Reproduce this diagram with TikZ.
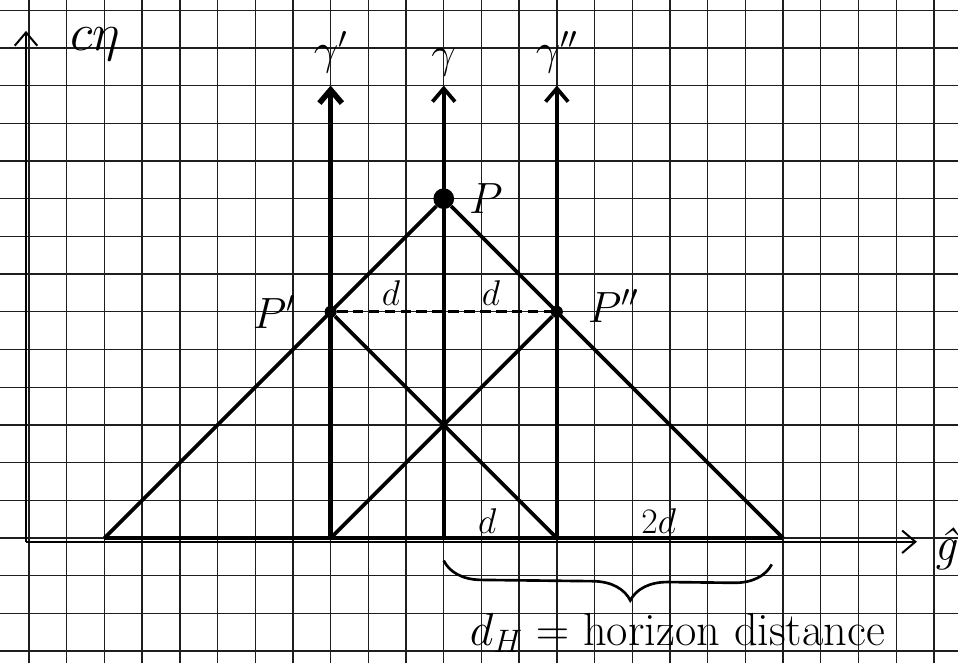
\RequirePackage{fix-cm}
\documentclass[tikz,border=0pt]{standalone}
\usepackage{amssymb,amsmath}
\usepackage{fontspec}
\usepackage{tikz}
\usetikzlibrary{arrows.meta,calc,positioning,decorations.pathreplacing}
\definecolor{GridInk}{RGB}{30,30,30}

\begin{document}
\begin{tikzpicture}[>={Straight Barb[length=10pt,width=17pt]},
  wline/.style={->,line width=2.8pt},
  cone/.style={line width=2.8pt},
  event/.style={circle,fill,inner sep=0pt,minimum size=#1},
  lbl/.style={font=\fontsize{33}{35}\selectfont,inner sep=1pt},
  dlbl/.style={font=\fontsize{27}{29}\selectfont,inner sep=1pt}]
\useasboundingbox (-0.77,-3.32) rectangle (24.64,14.27);
\draw[line width=1pt,GridInk,step=1] (-0.77,-3.32) grid (24.64,14.27);
% axes
\coordinate (O) at (-0.08,-0.1);
\coordinate (tend) at (-0.08,13.45);
\coordinate (xend) at (23.55,-0.1);
\draw[->,line width=1.5pt] (O) -- (tend);
\draw[->,line width=1.5pt] (O) -- (xend);
\node[lbl,font=\fontsize{40}{42}\selectfont] (ceta) at (1.75,13.1) {$c\eta$};
\node[lbl,font=\fontsize{36}{38}\selectfont\itshape,inner sep=0pt] (ghat) at (24.3,-0.3) {ĝ};
% world lines
\coordinate (w1) at (8,0);  \coordinate (w1t) at (8,12);
\coordinate (w0) at (11,0); \coordinate (w0t) at (11,12);
\coordinate (w2) at (14,0); \coordinate (w2t) at (14,12);
\draw[wline,line width=4.2pt] (w1) -- (w1t);
\draw[wline] (w0) -- (w0t);
\draw[wline] (w2) -- (w2t);
\node[lbl,above=0.3cm of w1t] (g1) {$\gamma'$};
\node[lbl,above=0.2cm of w0t] (g0) {$\gamma$};
\node[lbl,above=0.3cm of w2t] (g2) {$\gamma''$};
% events and light cones
\node[event=0.55cm] (P) at (11,9) {};
\node[event=0.32cm] (P1) at (8,6) {};
\node[event=0.32cm] (P2) at (14,6) {};
\node[lbl,right=0.35cm of P] (Pl) {$P$};
\node[lbl] (P1l) at (6.5,6.0) {$P'$};
\node[lbl] (P2l) at (15.5,6.15) {$P''$};
\coordinate (L) at (2,0);
\coordinate (R) at (20,0);
\draw[cone] (P) -- (L);
\draw[cone] (P) -- (R);
\draw[cone] (P1) -- (w2);
\draw[cone] (P2) -- (w1);
\draw[cone] (L) -- (R);
\draw[line width=2.4pt,dash pattern=on 8pt off 4pt] (P1) -- (P2);
\node[dlbl] (d1) at (9.6,6.5) {$d$};
\node[dlbl] (d2) at (12.25,6.5) {$d$};
\node[dlbl] (d3) at (12.15,0.45) {$d$};
\node[dlbl] (d4) at (16.7,0.45) {$2d$};
% horizon
\coordinate (bl) at (11,-0.6);
\coordinate (br) at (19.7,-0.7);
\draw[line width=2pt,decorate,decoration={brace,mirror,amplitude=1cm,aspect=0.57}] (bl) -- (br);
\node[lbl,font=\fontsize{35}{37}\selectfont,anchor=base west] (hor) at (11.65,-2.85) {$d_H=$ horizon distance};
\end{tikzpicture}
\end{document}
